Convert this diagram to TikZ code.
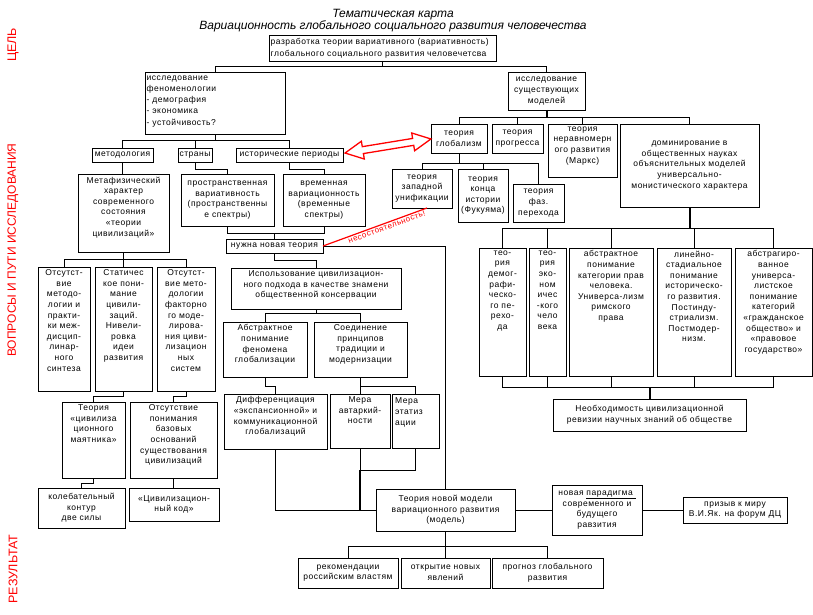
\documentclass[tikz,border=0pt]{standalone}
\usepackage{fontspec}
\setmainfont{Liberation Sans}
\newfontfamily\boxfont[LetterSpace=6]{Liberation Sans}
\newfontfamily\ttlfont{Liberation Sans}
\tikzset{
  box/.style={draw, line width=0.9pt, inner sep=0pt, outer sep=0pt, fill=white},
  txt/.style={inner sep=1pt, font=\boxfont\fontsize{8.5}{10.6}\selectfont},
  txtl/.style={inner sep=1pt, font=\boxfont\fontsize{8.5}{11.2}\selectfont},
  ln/.style={line width=0.8pt},
  thk/.style={line width=2pt},
  side/.style={text=red, font=\ttlfont\fontsize{12.5}{14}\selectfont, rotate=90},
  ttl/.style={align=center, font=\ttlfont\itshape\fontsize{12}{12.5}\selectfont},
  warn/.style={text=red, font=\boxfont\fontsize{8}{9}\selectfont, inner sep=0.5pt}
}
\newcommand\mkbox[5]{\pgfmathsetmacro\bw{#4-#2}\pgfmathsetmacro\bh{#5-#3}%
  \node[box, minimum width=\bw pt, minimum height=\bh pt, anchor=north west] (#1) at (#2,#3) {};}
\newcommand\bxt[6]{\mkbox{#1}{#2}{#3}{#4}{#5}\node[txt, align=center, anchor=north] (#1t) at ([yshift=-1.5pt]#1.north) {#6};}
\newcommand\bxl[6]{\mkbox{#1}{#2}{#3}{#4}{#5}\node[txtl, align=left, anchor=north west] (#1t) at ([xshift=0.5pt,yshift=-2.5pt]#1.north west) {#6};}
\newcommand\bxc[6]{\mkbox{#1}{#2}{#3}{#4}{#5}\node[txt, align=center] (#1t) at (#1.center) {#6};}
\begin{document}
\begin{tikzpicture}[x=1pt, y=-1pt]
\useasboundingbox (0,0) rectangle (813,615);

% title and side labels
\node[ttl] (title) at (393,20.5) {Тематическая карта\\Вариационность глобального социального развития человечества};
\node[side] (s1) at (13,45) {ЦЕЛЬ};
\node[side, font=\ttlfont\fontsize{12}{14}\selectfont] (s2) at (13,250) {ВОПРОСЫ И ПУТИ ИССЛЕДОВАНИЯ};
\node[side] (s3) at (13,569) {РЕЗУЛЬТАТ};

% boxes
\bxl{top}{269}{35}{496}{61}{разработка теории вариативного (вариативность)\\глобального социального развития человечетсва}
\bxl{phen}{145}{72}{285}{134}{исследование\\феноменологии\\- демография\\- экономика\\- устойчивость?}
\bxc{exist}{508}{72}{585}{110}{исследование\\существующих\\моделей}
\bxc{meth}{92}{148}{153}{162}{методология}
\bxc{ctry}{178}{148}{212}{162}{страны}
\bxc{hist}{236}{148}{343}{162}{исторические периоды}
\bxc{glob}{431}{124}{487}{153}{теория\\глобализм}
\bxc{prog}{492}{124}{543}{153}{теория\\прогресса}
\bxt{marx}{548}{124}{617}{177}{теория\\неравномерн\\ого развития\\(Маркс)}
\bxc{dom}{620}{124}{759}{207}{доминирование в\\общественных науках\\объяснительных моделей\\универсально-\\монистического характера}
\bxc{west}{392}{169}{452}{208}{теория\\западной\\унификации}
\bxc{fuk}{458}{169}{508}{222}{теория\\конца\\истории\\(Фукуяма)}
\bxc{phase}{513}{184}{564}{222}{теория\\фаз.\\перехода}
\bxt{meta}{78}{174}{169}{252}{Метафизический\\характер\\современного\\состояния\\«теории\\цивилизаций»}
\bxc{space}{181}{174}{274}{226}{пространственная\\вариативность\\(пространственны\\е спектры)}
\bxc{time}{283}{174}{365}{226}{временная\\вариационность\\(временные\\спектры)}
\bxc{need}{226}{239}{323}{253}{нужна новая теория}
\bxt{use}{231}{268}{401}{309}{Использование цивилизацион-\\ного подхода в качестве знамени\\общественной консервации}
\bxt{abs}{223}{322}{307}{377}{Абстрактное\\понимание\\феномена\\глобализации}
\bxt{conn}{314}{322}{407}{377}{Соединение\\принципов\\традиции и\\модернизации}
\bxt{diff}{224}{394}{327}{449}{Дифференциация\\«экспансионной» и\\коммуникационной\\глобализаций}
\bxt{aut}{330}{394}{390}{448}{Мера\\автаркий-\\ности}
\bxl{etat}{392}{394}{439}{448}{\,Мера\\\,этатиз\\\,ации}
\bxt{m1}{38}{267}{90}{391}{Отсутст-\\вие\\методо-\\логии и\\практи-\\ки меж-\\дисцип-\\линар-\\ного\\синтеза}
\bxt{m2}{95}{267}{152}{391}{Статичес\\кое пони-\\мание\\цивили-\\заций.\\Нивели-\\ровка\\идеи\\развития}
\bxt{m3}{157}{267}{215}{391}{Отсутст-\\вие мето-\\дологии\\факторно\\го моде-\\лирова-\\ния циви-\\лизацион\\ных\\систем}
\bxt{pend}{62}{402}{125}{478}{Теория\\«цивилиза\\ционного\\маятника»}
\bxt{base}{130}{402}{217}{478}{Отсутствие\\понимания\\базовых\\оснований\\существования\\цивилизаций}
\bxc{osc}{38}{488}{125}{528}{колебательный\\контур\\две силы}
\bxc{code}{129}{488}{219}{521}{«Цивилизацион-\\ный код»}
\bxt{r1}{479}{248}{526}{376}{тео-\\рия\\демог-\\рафи-\\ческо-\\го пе-\\рехо-\\да}
\bxt{r2}{529}{248}{566}{376}{тео-\\рия\\эко-\\ном\\ичес\\-кого\\чело\\века}
\bxt{r3}{569}{248}{653}{376}{абстрактное\\понимание\\категории прав\\человека.\\Универса-лизм\\римского\\права}
\bxt{r4}{657}{248}{731}{376}{линейно-\\стадиальное\\понимание\\историческо-\\го развития.\\Постинду-\\стриализм.\\Постмодер-\\низм.}
\bxt{r5}{735}{248}{812}{376}{абстрагиро-\\ванное\\универса-\\листское\\понимание\\категорий\\«гражданское\\общество» и\\«правовое\\государство»}
\bxc{necess}{553}{399}{746}{431}{Необходимость цивилизационной\\ревизии научных знаний об обществе}
\bxc{model}{376}{489}{515}{531}{Теория новой модели\\вариационного развития\\(модель)}
\bxc{para}{552}{485}{642}{535}{новая \underline{парадигма\ }\\современного и\\будущего\\равзития}
\bxc{call}{683}{497}{787}{523}{призыв к миру\\В.И.Як. на форум ДЦ}
\bxc{rec}{298}{558}{398}{588}{рекомендации\\российским властям}
\bxc{open}{401}{558}{490}{588}{открытие новых\\явлений}
\bxc{fore}{492}{558}{603}{588}{прогноз глобального\\развития}

% connectors
\draw[ln] (top.south) -- (top.south |- 0,66);
\draw[ln] (phen.north) -- (phen.north |- 0,66) -- (exist.north |- 0,66) -- (exist.north);
\draw[ln] (phen.south) -- (phen.south |- 0,140);
\draw[ln] (meth.north) -- (meth.north |- 0,140) -- (hist.north |- 0,140) -- (hist.north);
\draw[ln] (ctry.north) -- (ctry.north |- 0,140);
\draw[thk] (exist.south) -- (exist.south |- 0,117);
\draw[ln] (glob.north) -- (glob.north |- 0,117) -- (dom.north |- 0,117) -- (dom.north);
\draw[ln] (prog.north) -- (prog.north |- 0,117);
\draw[ln] (marx.north) -- (marx.north |- 0,117);
\draw[ln] (glob.south) -- (glob.south |- 0,163);
\draw[ln] (west.north) -- (west.north |- 0,163) -- (phase.north |- 0,163) -- (phase.north);
\draw[ln] (fuk.north) -- (fuk.north |- 0,163);
\draw[ln] (meth.south) -- (meth.south |- meta.north);
\draw[ln] (ctry.south) -- (ctry.south |- 0,169) -- (space.north |- 0,169) -- (space.north);
\draw[ln] (hist.south) -- (hist.south |- 0,169) -- (time.north |- 0,169) -- (time.north);
\draw[ln] (space.south) -- (space.south |- 0,233) -- (time.south |- 0,233) -- (time.south);
\draw[ln] (need.north) -- (need.north |- 0,233);
\draw[ln] (need.east) -| (model.north);
\draw[ln] (need.south) -- (need.south |- 0,260) -- (use.north |- 0,260) -- (use.north);
\draw[ln] (use.south) -- (use.south |- 0,313);
\draw[ln] (abs.north) -- (abs.north |- 0,313) -- (conn.north |- 0,313) -- (conn.north);
\draw[ln] (abs.south) -- (abs.south |- 0,386) -- (diff.north |- 0,386) -- (diff.north);
\draw[ln] (conn.south) -- (conn.south |- 0,386);
\draw[ln] (aut.north) -- (aut.north |- 0,386) -- (etat.north |- 0,386) -- (etat.north);
\draw[ln] (diff.south) |- (model.west);
\draw[ln] (aut.south) -- (aut.south |- 0,470);
\draw[ln] (etat.south) -- (etat.south |- 0,470) -- (aut.south |- 0,470);
\draw[thk] (aut.south |- 0,470) -- (aut.south |- model.west);
\draw[ln] (meta.south) -- (meta.south |- 0,259);
\draw[ln] (m1.north) -- (m1.north |- 0,259) -- (m3.north |- 0,259) -- (m3.north);
\draw[ln] (m2.north) -- (m2.north |- 0,259);
\draw[ln] (m2.south) -- (m2.south |- 0,396) -- (pend.north |- 0,396) -- (pend.north);
\draw[ln] (m3.south) -- (m3.south |- 0,396) -- (base.north |- 0,396) -- (base.north);
\draw[ln] (pend.south) -- (pend.south |- 0,483) -- (osc.north |- 0,483) -- (osc.north);
\draw[ln] (base.south) -- (base.south |- code.north);
\draw[thk] (dom.south) -- (dom.south |- 0,228);
\draw[ln] (r1.north) -- (r1.north |- 0,228) -- (r5.north |- 0,228) -- (r5.north);
\draw[ln] (r1.south) -- (r1.south |- 0,387) -- (r5.south |- 0,387) -- (r5.south);
\foreach \nm in {r2,r3,r4}{
  \draw[ln] (\nm.north) -- (\nm.north |- 0,228);
  \draw[ln] (\nm.south) -- (\nm.south |- 0,387);
}
\draw[thk] (necess.north) -- (necess.north |- 0,387);
\draw[ln] (model.east) -- (para.west);
\draw[ln] (para.east) -- (call.west);
\draw[ln] (model.south) -- (model.south |- 0,546);
\draw[ln] (rec.north) -- (rec.north |- 0,546) -- (fore.north |- 0,546) -- (fore.north);
\draw[ln] (open.north) -- (open.north |- 0,546);

% red links
\draw[red, line width=1.2pt] (need.east) -- ([xshift=5pt]west.south)
  node[warn, pos=0.6, sloped, below] (nesost) {несостоятельность!};
\begin{scope}[shift={(388,146)}, rotate=9.3]
  \draw[red, line width=1.3pt, fill=white, line join=miter]
    (-43.5,0) -- (-25.5,-9) -- (-25.5,-3.5) -- (25.5,-3.5) -- (25.5,-9) -- (43.5,0)
    -- (25.5,9) -- (25.5,3.5) -- (-25.5,3.5) -- (-25.5,9) -- cycle;
\end{scope}
\end{tikzpicture}
\end{document}
